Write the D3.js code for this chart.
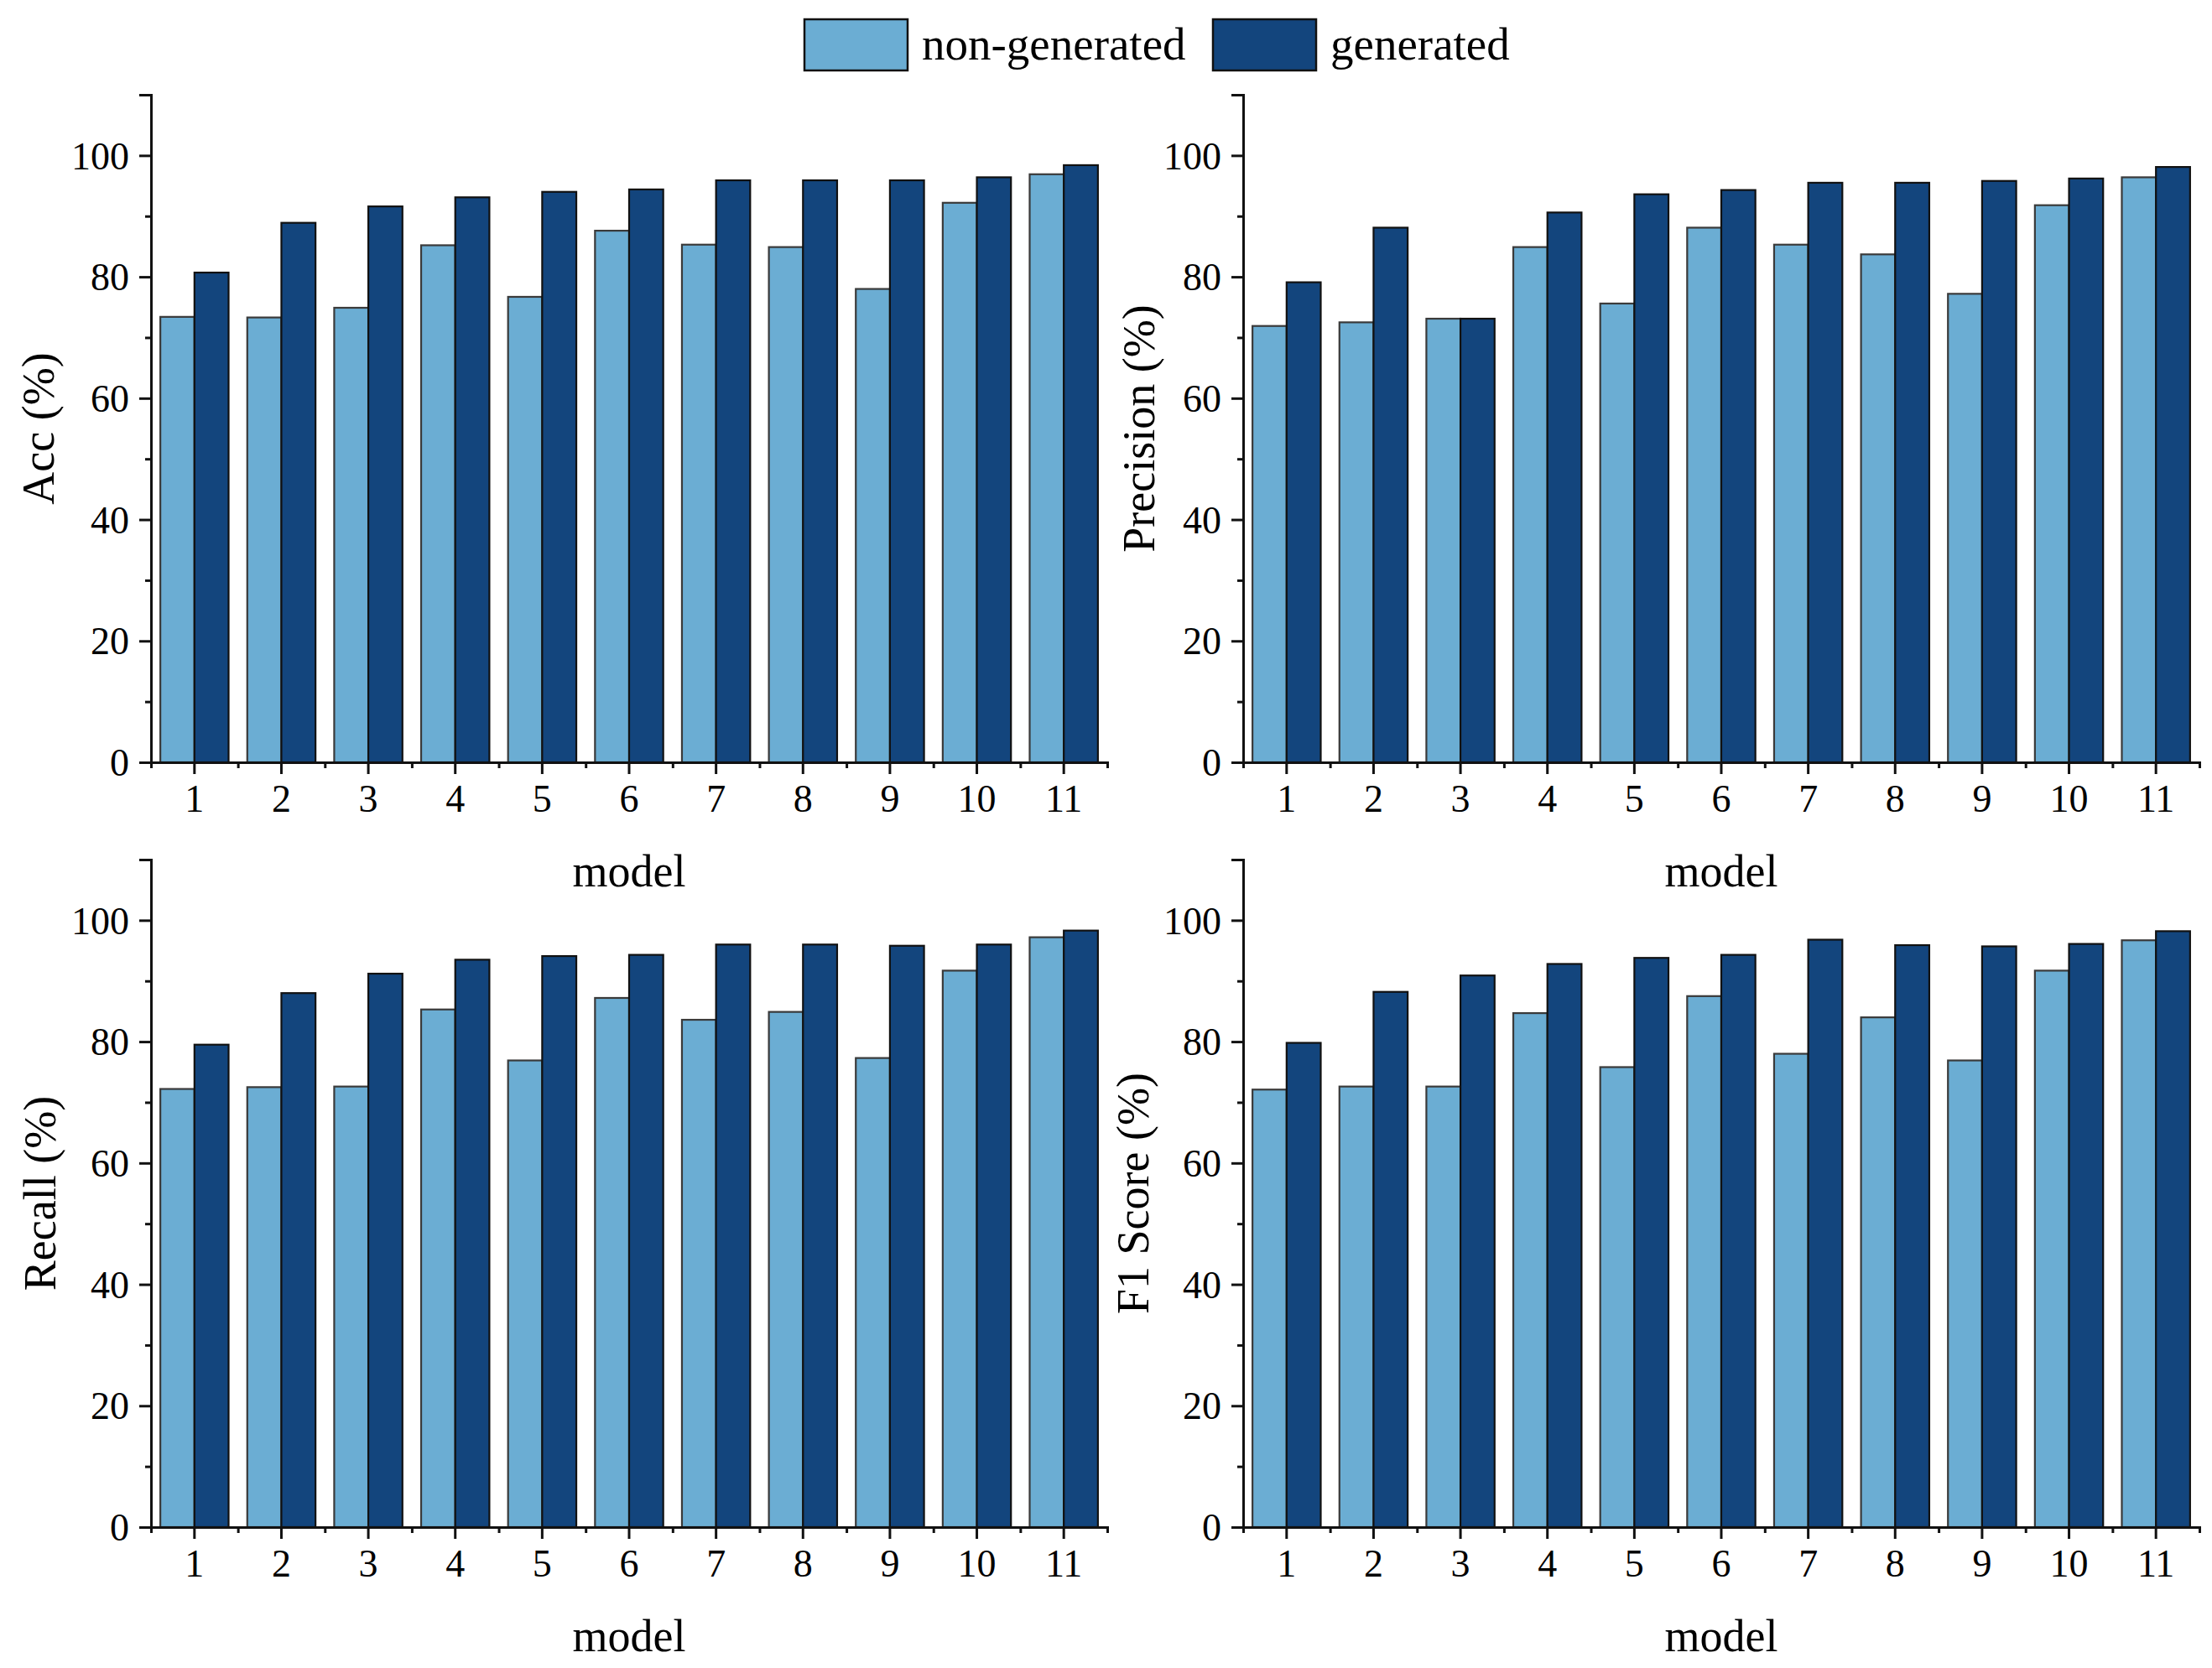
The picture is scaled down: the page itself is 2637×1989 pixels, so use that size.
<!DOCTYPE html>
<html>
<head>
<meta charset="utf-8">
<script src="https://cdn.jsdelivr.net/npm/d3@7"></script>
<style>
  body { margin: 0; background: #fff; }
  svg { display: block; font-family: "Liberation Serif", "Times New Roman", serif; }
</style>
</head>
<body>
<svg id="chart"></svg>
<script>
let models = ['1', '2', '3', '4', '5', '6', '7', '8', '9', '10', '11'];
let seriesNames = ['non-generated', 'generated'];
let yTicks = [0, 20, 40, 60, 80, 100];
let yMinorTicks = [10, 30, 50, 70, 90, 110];

let accNonGen = [73.4, 73.3, 74.9, 85.2, 76.7, 87.6, 85.3, 84.9, 78.0, 92.2, 96.9];
let accGen = [80.7, 88.9, 91.6, 93.1, 94.0, 94.4, 95.9, 95.9, 95.9, 96.4, 98.4];

let precNonGen = [71.9, 72.5, 73.1, 84.9, 75.6, 88.1, 85.3, 83.7, 77.2, 91.8, 96.4];
let precGen = [79.1, 88.1, 73.1, 90.6, 93.6, 94.3, 95.5, 95.5, 95.8, 96.2, 98.1];

let recallNonGen = [72.2, 72.5, 72.6, 85.3, 76.9, 87.2, 83.6, 84.9, 77.3, 91.7, 97.2];
let recallGen = [79.5, 88.0, 91.2, 93.5, 94.1, 94.3, 96.0, 96.0, 95.8, 96.0, 98.3];

let f1NonGen = [72.1, 72.6, 72.6, 84.7, 75.8, 87.5, 78.0, 84.0, 76.9, 91.7, 96.7];
let f1Gen = [79.8, 88.2, 90.9, 92.8, 93.8, 94.3, 96.8, 95.9, 95.7, 96.1, 98.2];

let colors = ['#6badd3', '#13457d'];

let width = 2637;
let height = 1989;

let panels = [
    { label: 'Acc (%)', values: [accNonGen, accGen], left: 180, top: 113, labelOff: -134 },
    { label: 'Precision (%)', values: [precNonGen, precGen], left: 1482, top: 113, labelOff: -124 },
    { label: 'Recall (%)', values: [recallNonGen, recallGen], left: 180, top: 1025, labelOff: -132 },
    { label: 'F1 Score (%)', values: [f1NonGen, f1Gen], left: 1482, top: 1025, labelOff: -131 }
];

let plotW = 1140;
let plotH = 796;

const svg = d3.select('#chart')
    .attr('width', width)
    .attr('height', height);

let drawPanel = (p) => {
    let g = svg.append('g')
               .attr('transform', 'translate(' + p.left + ',' + p.top + ')');

    let xScale = d3.scaleBand()
                   .domain(models)
                   .range([0, plotW])
                   .paddingInner(0.215)
                   .paddingOuter(0.1075);

    // whole categories, for the boundary ticks
    let xEdges = d3.scaleLinear()
                   .domain([0, models.length])
                   .range([0, plotW]);

    let xInner = d3.scaleBand()
                   .domain(seriesNames)
                   .range([0, xScale.bandwidth()]);

    let yScale = d3.scaleLinear()
                   .domain([0, 110])
                   .range([plotH, 0]);

    let rows = models.map((m, i) => {
        return { model: m, vals: seriesNames.map((s, k) => ({ s: s, k: k, v: p.values[k][i] })) };
    });

    let groups = g.selectAll('g.grp')
                  .data(rows)
                  .enter()
                  .append('g')
                  .attr('class', 'grp')
                  .attr('transform', (d) => 'translate(' + xScale(d.model) + ',0)');

    groups.selectAll('rect')
          .data((d) => d.vals)
          .enter()
          .append('rect')
          .attr('x', (d) => xInner(d.s))
          .attr('width', xInner.bandwidth())
          .attr('y', (d) => yScale(d.v))
          .attr('height', (d) => plotH - yScale(d.v))
          .attr('fill', (d) => colors[d.k])
          .attr('stroke', (d) => d.k === 0 ? '#3a3a3a' : '#111')
          .attr('stroke-width', 2.2);

    // y axis
    let yAxis = d3.axisLeft(yScale).tickValues(yTicks).tickSize(14).tickPadding(12);
    let yMinor = d3.axisLeft(yScale).tickValues(yMinorTicks).tickSize(7).tickFormat('');

    let ya = g.append('g').call(yAxis);
    g.append('g').call(yMinor);

    // x axis
    let xAxis = d3.axisBottom(xScale).tickSize(14).tickPadding(12).tickSizeOuter(0);
    let xMinor = d3.axisBottom(xEdges).ticks(models.length).tickSize(7).tickFormat('');

    let xa = g.append('g').attr('transform', 'translate(0,' + plotH + ')').call(xAxis);
    g.append('g').attr('transform', 'translate(0,' + plotH + ')').call(xMinor);

    g.selectAll('.domain').attr('stroke', '#111').attr('stroke-width', 3);
    g.selectAll('.tick line').attr('stroke', '#111').attr('stroke-width', 3);
    g.selectAll('.tick text').attr('font-size', 46).attr('fill', '#000')
        .attr('font-family', '"Liberation Serif", "Times New Roman", serif');

    ya.selectAll('.tick text').attr('dy', '0.34em');
    xa.selectAll('.tick text').attr('dy', '0.72em');

    g.append('text')
     .attr('x', plotW / 2)
     .attr('y', plotH + 148)
     .attr('text-anchor', 'middle')
     .attr('font-size', 54)
     .text('model');

    g.append('text')
     .attr('transform', 'translate(' + p.labelOff + ',' + (plotH / 2) + ') rotate(-90)')
     .attr('text-anchor', 'middle')
     .attr('dy', '0.34em')
     .attr('font-size', 54)
     .text(p.label);
};

panels.forEach(drawPanel);

// legend
let legendX = d3.scalePoint()
                .domain(seriesNames)
                .range([959, 1446]);

let leg = svg.selectAll('g.legend')
             .data(seriesNames)
             .enter()
             .append('g')
             .attr('class', 'legend')
             .attr('transform', (d) => 'translate(' + legendX(d) + ',23)');

leg.append('rect')
   .attr('width', 123)
   .attr('height', 61)
   .attr('fill', (d, i) => colors[i])
   .attr('stroke', '#111')
   .attr('stroke-width', 2.5);

leg.append('text')
   .attr('x', 140)
   .attr('y', 48)
   .attr('font-size', 55)
   .text((d) => d);
</script>
</body>
</html>
